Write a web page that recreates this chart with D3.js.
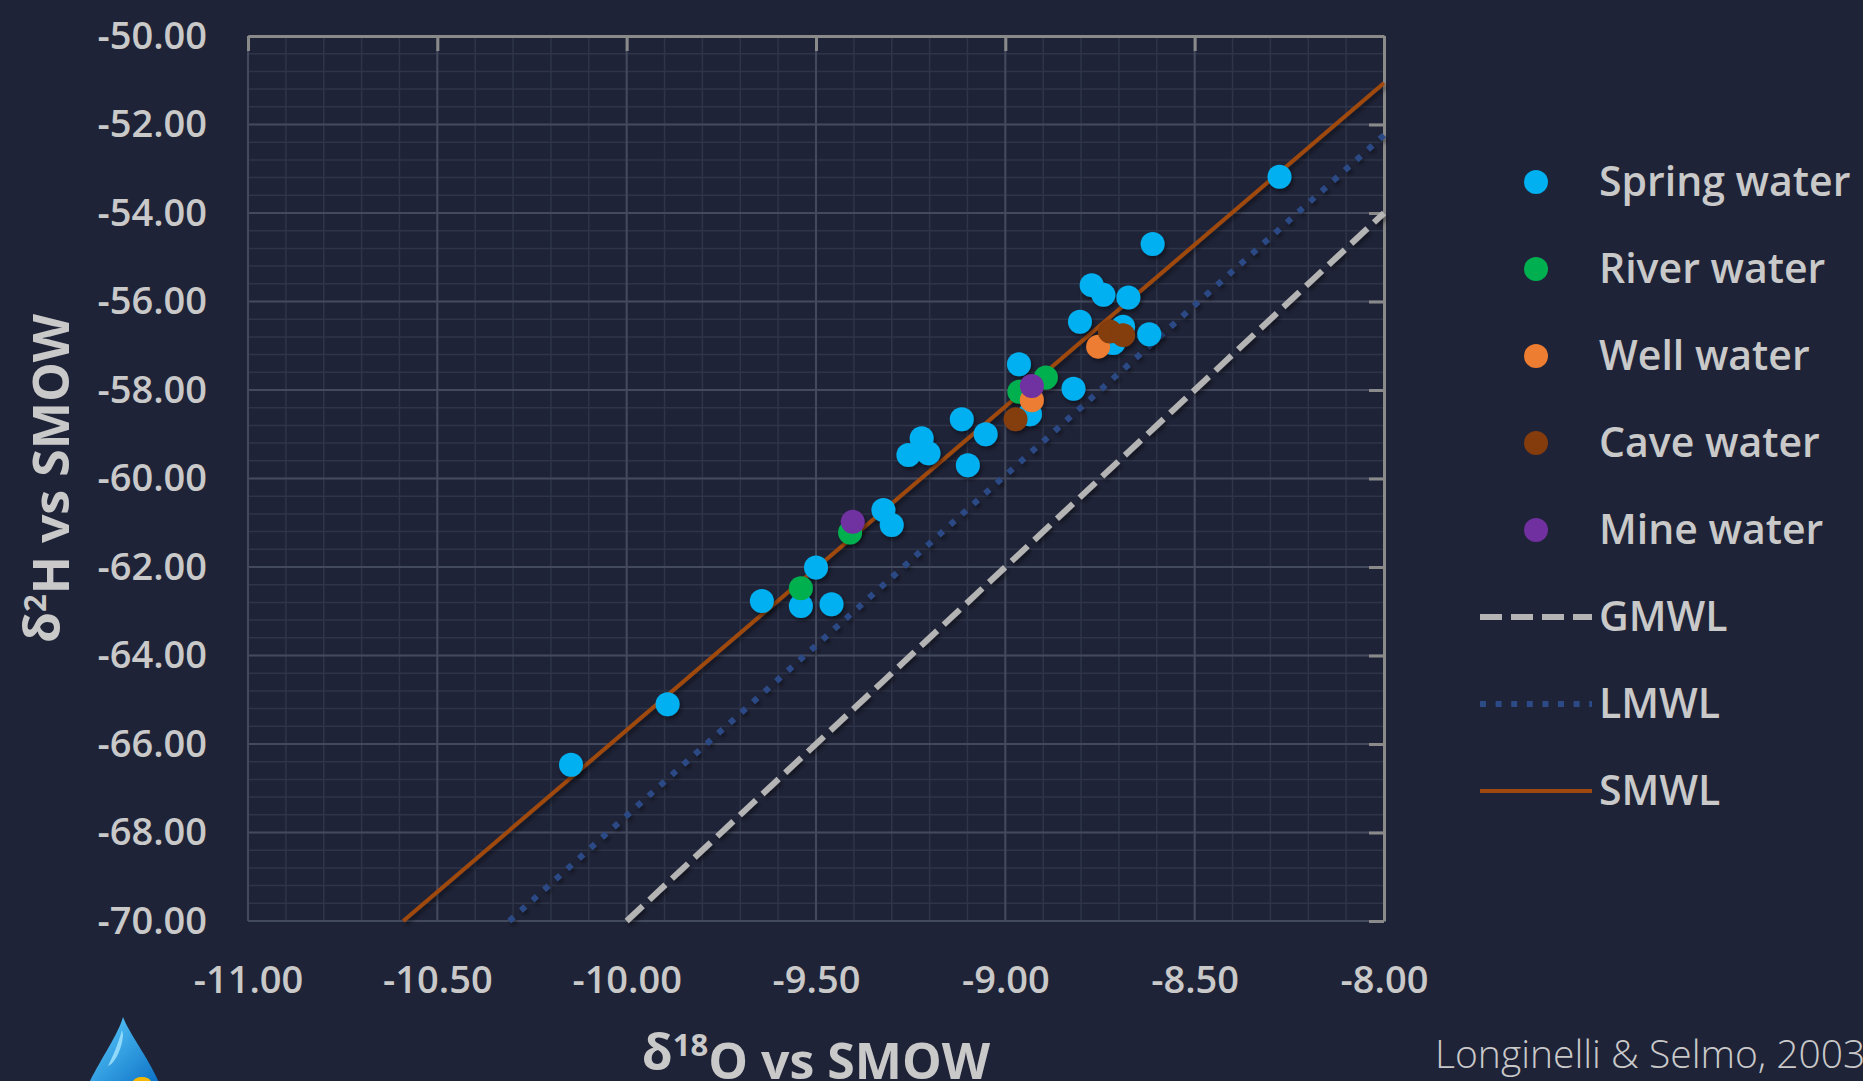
<!DOCTYPE html>
<html>
<head>
<meta charset="utf-8">
<script src="https://cdn.jsdelivr.net/npm/d3@7"></script>
<style>
  body { margin: 0; background: #1f2337; overflow: hidden; }
  svg { display: block; }
  text { font-family: "Open Sans", sans-serif; fill: #c9c9c9; }
</style>
</head>
<body>
<script>
// axis ticks
xTicks = [-11, -10.5, -10, -9.5, -9, -8.5, -8]
xTickLabels = ["-11.00", "-10.50", "-10.00", "-9.50", "-9.00", "-8.50", "-8.00"]
yTicks = [-70, -68, -66, -64, -62, -60, -58, -56, -54, -52, -50]
yTickLabels = ["-70.00", "-68.00", "-66.00", "-64.00", "-62.00", "-60.00", "-58.00", "-56.00", "-54.00", "-52.00", "-50.00"]

// d18O, d2H
springWater = [
    [-10.147, -66.47], [-9.892, -65.10], [-9.643, -62.77], [-9.540, -62.88], [-9.500, -62.01],
    [-9.459, -62.84], [-9.322, -60.71], [-9.300, -61.05], [-9.221, -59.09], [-9.256, -59.47],
    [-9.203, -59.43], [-9.115, -58.66], [-9.052, -59.00], [-9.099, -59.70], [-8.935, -58.55],
    [-8.820, -57.97], [-8.964, -57.42], [-8.803, -56.46], [-8.772, -55.63], [-8.741, -55.85],
    [-8.675, -55.91], [-8.689, -56.57], [-8.715, -56.94], [-8.620, -56.74], [-8.611, -54.70],
    [-8.276, -53.18]
]
riverWater = [[-9.540, -62.48], [-9.410, -61.22], [-8.963, -58.04], [-8.893, -57.72]]
wellWater = [[-8.930, -58.23], [-8.755, -57.02]]
caveWater = [[-8.973, -58.66], [-8.724, -56.68], [-8.689, -56.76]]
mineWater = [[-9.403, -60.98], [-8.930, -57.91]]

// meteoric water lines, end points inside the plot
gmwl = [[-10.0, -70], [-8.0, -54.0]]
lmwl = [[-10.31, -70], [-8.0, -52.24]]
smwl = [[-10.59, -70], [-8.0, -51.06]]

pointSeries = [
    { name: "Spring water", color: "#00b0f0", data: springWater },
    { name: "River water", color: "#00b050", data: riverWater },
    { name: "Well water", color: "#ed7d31", data: wellWater },
    { name: "Cave water", color: "#843c0c", data: caveWater },
    { name: "Mine water", color: "#7030a0", data: mineWater }
]
lineSeries = [
    { name: "GMWL", color: "#b4b4b4", width: 6, dash: "22 9", data: gmwl },
    { name: "LMWL", color: "#2c4a85", width: 6, dash: "6 9.6", data: lmwl },
    { name: "SMWL", color: "#a0490f", width: 4, dash: null, data: smwl }
]

W = 1863
H = 1081
// plot box (window.top is read only, so own names)
pL = 248, pR = 1384, pT = 36, pB = 921

svg = d3.select("body").append("svg").attr("width", W).attr("height", H)

defs = svg.append("defs")
defs.append("filter").attr("id", "shadow").attr("x", "-50%").attr("y", "-50%").attr("width", "200%").attr("height", "200%")
    .append("feDropShadow").attr("dx", 2).attr("dy", 3).attr("stdDeviation", 2)
    .attr("flood-color", "#000").attr("flood-opacity", 0.45)

x = d3.scaleLinear().domain([-11, -8]).range([pL, pR])
y = d3.scaleLinear().domain([-70, -50]).range([pB, pT])

// grid, minor first
grid = svg.append("g")
grid.selectAll(".xminor").data(d3.range(-110, -79, 1).map(d => d / 10)).enter().append("line")
    .attr("x1", d => x(d)).attr("x2", d => x(d)).attr("y1", pT).attr("y2", pB)
    .attr("stroke", "#2f3549").attr("stroke-width", 1.5)
grid.selectAll(".yminor").data(d3.range(-175, -124, 1).map(d => d * 0.4)).enter().append("line")
    .attr("y1", d => y(d)).attr("y2", d => y(d)).attr("x1", pL).attr("x2", pR)
    .attr("stroke", "#2f3549").attr("stroke-width", 1.5)
grid.selectAll(".xmajor").data(xTicks).enter().append("line")
    .attr("x1", d => x(d)).attr("x2", d => x(d)).attr("y1", pT).attr("y2", pB)
    .attr("stroke", "#444a5e").attr("stroke-width", 2)
grid.selectAll(".ymajor").data(yTicks).enter().append("line")
    .attr("y1", d => y(d)).attr("y2", d => y(d)).attr("x1", pL).attr("x2", pR)
    .attr("stroke", "#444a5e").attr("stroke-width", 2)

// axis lines sit on top and right, ticks pointing in
axisTop = svg.append("g").attr("transform", "translate(0," + pT + ")")
    .call(d3.axisBottom(x).tickValues(xTicks).tickSize(15).tickSizeOuter(0).tickFormat(""))
axisRight = svg.append("g").attr("transform", "translate(" + pR + ",0)")
    .call(d3.axisLeft(y).tickValues(yTicks).tickSize(15).tickSizeOuter(0).tickFormat(""))
svg.selectAll(".domain").attr("stroke", "#8a8a8a").attr("stroke-width", 3)
svg.selectAll(".tick line").attr("stroke", "#8a8a8a").attr("stroke-width", 3)

// tick labels
xLab = svg.append("g").attr("transform", "translate(0," + (pB + 59) + ")")
    .call(d3.axisBottom(x).tickValues(xTicks).tickSize(0).tickFormat((d, i) => xTickLabels[i]))
yLab = svg.append("g").attr("transform", "translate(207,0)")
    .call(d3.axisLeft(y).tickValues(yTicks).tickSize(0).tickFormat((d, i) => yTickLabels[i]))
xLab.select(".domain").remove()
yLab.select(".domain").remove()
xLab.selectAll("text").attr("dy", "0.35em").attr("y", 0)
yLab.selectAll("text").attr("x", 0)
svg.selectAll("g text").style("font-family", "'Open Sans', sans-serif").style("font-size", "38px")
    .style("font-weight", 600).attr("fill", "#c9c9c9")

// lines
line = d3.line().x(d => x(d[0])).y(d => y(d[1]))
svg.append("g").attr("filter", "url(#shadow)").selectAll("path").data(lineSeries).enter().append("path")
    .attr("d", d => line(d.data))
    .attr("fill", "none")
    .attr("stroke", d => d.color)
    .attr("stroke-width", d => d.width)
    .attr("stroke-dasharray", d => d.dash)

// points
pts = svg.append("g").attr("filter", "url(#shadow)")
pointSeries.forEach(function(s) {
    pts.selectAll(null).data(s.data).enter().append("circle")
        .attr("cx", d => x(d[0])).attr("cy", d => y(d[1])).attr("r", 12)
        .attr("fill", s.color)
})

// axis titles
yt = svg.append("text").attr("transform", "translate(60," + ((pT + pB) / 2) + ") rotate(-90)")
    .attr("text-anchor", "middle").style("font-size", "50px").style("font-weight", 700)
yt.append("tspan").text("δ")
yt.append("tspan").text("2").attr("dy", "-0.45em").style("font-size", "31px")
yt.append("tspan").text("H vs SMOW").attr("dy", "0.45em")

xt = svg.append("text").attr("x", (pL + pR) / 2).attr("y", 1070)
    .attr("text-anchor", "middle").style("font-size", "50px").style("font-weight", 700)
xt.append("tspan").text("δ")
xt.append("tspan").text("18").attr("dy", "-0.45em").style("font-size", "31px")
xt.append("tspan").text("O vs SMOW").attr("dy", "0.45em")

// legend
legend = svg.append("g")
ly = 182
pointSeries.forEach(function(s, i) {
    g = legend.append("g").attr("transform", "translate(0," + (ly + i * 87) + ")")
    g.append("circle").attr("cx", 1536).attr("cy", 0).attr("r", 12).attr("fill", s.color)
    g.append("text").attr("x", 1599).attr("y", 0).attr("dy", "0.35em")
        .style("font-size", "41px").style("font-weight", 600).text(s.name)
})
lineSeries.forEach(function(s, i) {
    g = legend.append("g").attr("transform", "translate(0," + (ly + (i + 5) * 87) + ")")
    g.append("line").attr("x1", 1480).attr("x2", 1592).attr("y1", 0).attr("y2", 0)
        .attr("stroke", s.color).attr("stroke-width", s.width).attr("stroke-dasharray", s.dash)
    g.append("text").attr("x", 1599).attr("y", 0).attr("dy", "0.35em")
        .style("font-size", "41px").style("font-weight", 600).text(s.name)
})

// source
svg.append("text").attr("x", 1435).attr("y", 1068).style("font-size", "39px").style("font-weight", 300)
    .attr("fill", "#c4c4c4").text("Longinelli & Selmo, 2003")

// little drop logo, bottom left (mostly cut off)
dropGrad = defs.append("linearGradient").attr("id", "dropg").attr("x1", 0).attr("y1", 0).attr("x2", 1).attr("y2", 1)
dropGrad.append("stop").attr("offset", 0).attr("stop-color", "#5fd0ff")
dropGrad.append("stop").attr("offset", 1).attr("stop-color", "#0a6fc4")
svg.append("path").attr("d", "M123,1017 C118,1035 100,1060 88,1085 L160,1085 C150,1060 130,1035 123,1017 Z")
    .attr("fill", "url(#dropg)")
svg.append("path").attr("d", "M122,1030 C118,1045 112,1058 108,1066 C114,1064 122,1050 123,1035 Z")
    .attr("fill", "#a8e6ff").attr("opacity", 0.8)
svg.append("ellipse").attr("cx", 142).attr("cy", 1082).attr("rx", 9).attr("ry", 5).attr("fill", "#f5b800")
</script>
</body>
</html>
